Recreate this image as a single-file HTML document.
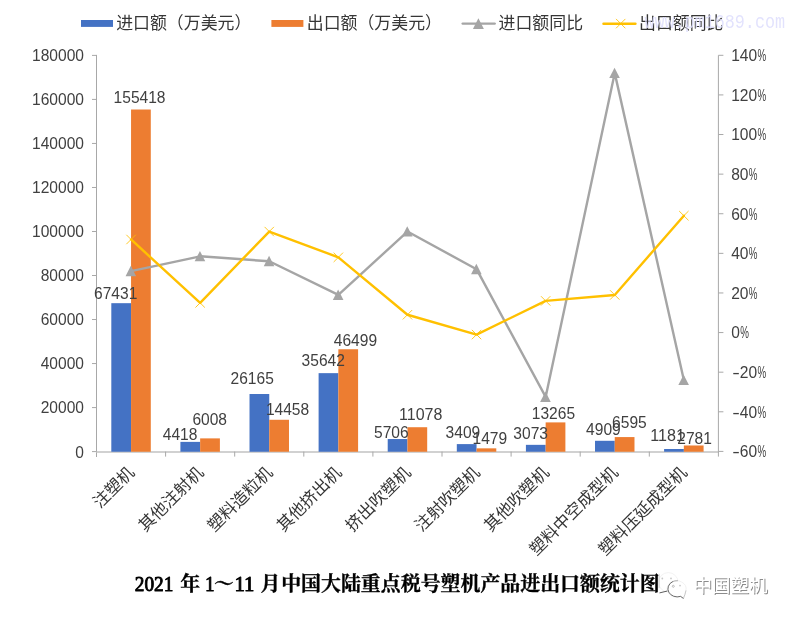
<!DOCTYPE html>
<html lang="zh-CN"><head><meta charset="utf-8"><title>2021年1～11月中国大陆重点税号塑机产品进出口额统计图</title>
<style>html,body{margin:0;padding:0;background:#fff}body{width:794px;height:621px;overflow:hidden}svg{display:block}</style></head>
<body>
<svg width="794" height="621" viewBox="0 0 794 621">
<rect width="794" height="621" fill="#fff"/>
<g stroke="#a8a8a8" stroke-width="1" fill="none">
<path d="M96.5 54.9 V457.0"/>
<path d="M718.4 55.3 V452.0"/>
<path d="M96.0 451.95000000000005 H718.9" stroke="#c2c2c2" stroke-width="1.4"/>
<path d="M92.0 451.60 H96.5"/>
<path d="M92.0 407.58 H96.5"/>
<path d="M92.0 363.56 H96.5"/>
<path d="M92.0 319.53 H96.5"/>
<path d="M92.0 275.51 H96.5"/>
<path d="M92.0 231.49 H96.5"/>
<path d="M92.0 187.47 H96.5"/>
<path d="M92.0 143.44 H96.5"/>
<path d="M92.0 99.42 H96.5"/>
<path d="M92.0 55.40 H96.5"/>
<path d="M718.4 55.30 h5"/>
<path d="M718.4 94.91 h5"/>
<path d="M718.4 134.52 h5"/>
<path d="M718.4 174.13 h5"/>
<path d="M718.4 213.74 h5"/>
<path d="M718.4 253.35 h5"/>
<path d="M718.4 292.96 h5"/>
<path d="M718.4 332.57 h5"/>
<path d="M718.4 372.18 h5"/>
<path d="M718.4 411.79 h5"/>
<path d="M718.4 451.40 h5"/>
<path d="M165.60 451.6 v5"/>
<path d="M234.70 451.6 v5"/>
<path d="M303.80 451.6 v5"/>
<path d="M372.90 451.6 v5"/>
<path d="M442.00 451.6 v5"/>
<path d="M511.10 451.6 v5"/>
<path d="M580.20 451.6 v5"/>
<path d="M649.30 451.6 v5"/>
<path d="M718.40 451.6 v5"/>
</g>
<rect x="111.31" y="303.18" width="19.74" height="148.57" fill="#4472c4"/>
<rect x="131.05" y="109.51" width="19.74" height="342.24" fill="#ed7d31"/>
<rect x="180.41" y="441.88" width="19.74" height="9.87" fill="#4472c4"/>
<rect x="200.15" y="438.38" width="19.74" height="13.37" fill="#ed7d31"/>
<rect x="249.51" y="394.01" width="19.74" height="57.74" fill="#4472c4"/>
<rect x="269.25" y="419.78" width="19.74" height="31.97" fill="#ed7d31"/>
<rect x="318.61" y="373.15" width="19.74" height="78.60" fill="#4472c4"/>
<rect x="338.35" y="349.25" width="19.74" height="102.50" fill="#ed7d31"/>
<rect x="387.71" y="439.04" width="19.74" height="12.71" fill="#4472c4"/>
<rect x="407.45" y="427.22" width="19.74" height="24.53" fill="#ed7d31"/>
<rect x="456.81" y="444.10" width="19.74" height="7.65" fill="#4472c4"/>
<rect x="476.55" y="448.34" width="19.74" height="3.41" fill="#ed7d31"/>
<rect x="525.91" y="444.84" width="19.74" height="6.91" fill="#4472c4"/>
<rect x="545.65" y="422.40" width="19.74" height="29.35" fill="#ed7d31"/>
<rect x="595.01" y="440.79" width="19.74" height="10.96" fill="#4472c4"/>
<rect x="614.75" y="437.08" width="19.74" height="14.67" fill="#ed7d31"/>
<rect x="664.11" y="449.00" width="19.74" height="2.75" fill="#4472c4"/>
<rect x="683.85" y="445.48" width="19.74" height="6.27" fill="#ed7d31"/>
<text x="75.34" y="457.50" font-family="Liberation Sans, sans-serif" font-size="16.4" fill="#404040" textLength="8.66" lengthAdjust="spacingAndGlyphs">0</text>
<text x="40.70" y="413.48" font-family="Liberation Sans, sans-serif" font-size="16.4" fill="#404040" textLength="43.30" lengthAdjust="spacingAndGlyphs">20000</text>
<text x="40.70" y="369.46" font-family="Liberation Sans, sans-serif" font-size="16.4" fill="#404040" textLength="43.30" lengthAdjust="spacingAndGlyphs">40000</text>
<text x="40.70" y="325.43" font-family="Liberation Sans, sans-serif" font-size="16.4" fill="#404040" textLength="43.30" lengthAdjust="spacingAndGlyphs">60000</text>
<text x="40.70" y="281.41" font-family="Liberation Sans, sans-serif" font-size="16.4" fill="#404040" textLength="43.30" lengthAdjust="spacingAndGlyphs">80000</text>
<text x="32.04" y="237.39" font-family="Liberation Sans, sans-serif" font-size="16.4" fill="#404040" textLength="51.96" lengthAdjust="spacingAndGlyphs">100000</text>
<text x="32.04" y="193.37" font-family="Liberation Sans, sans-serif" font-size="16.4" fill="#404040" textLength="51.96" lengthAdjust="spacingAndGlyphs">120000</text>
<text x="32.04" y="149.34" font-family="Liberation Sans, sans-serif" font-size="16.4" fill="#404040" textLength="51.96" lengthAdjust="spacingAndGlyphs">140000</text>
<text x="32.04" y="105.32" font-family="Liberation Sans, sans-serif" font-size="16.4" fill="#404040" textLength="51.96" lengthAdjust="spacingAndGlyphs">160000</text>
<text x="32.04" y="61.30" font-family="Liberation Sans, sans-serif" font-size="16.4" fill="#404040" textLength="51.96" lengthAdjust="spacingAndGlyphs">180000</text>
<text y="61.20" font-family="Liberation Sans, sans-serif" font-size="16.4" fill="#404040"><tspan x="731.2" textLength="25.98" lengthAdjust="spacingAndGlyphs">140</tspan><tspan x="757.48" textLength="8.7" lengthAdjust="spacingAndGlyphs">%</tspan></text>
<text y="100.81" font-family="Liberation Sans, sans-serif" font-size="16.4" fill="#404040"><tspan x="731.2" textLength="25.98" lengthAdjust="spacingAndGlyphs">120</tspan><tspan x="757.48" textLength="8.7" lengthAdjust="spacingAndGlyphs">%</tspan></text>
<text y="140.42" font-family="Liberation Sans, sans-serif" font-size="16.4" fill="#404040"><tspan x="731.2" textLength="25.98" lengthAdjust="spacingAndGlyphs">100</tspan><tspan x="757.48" textLength="8.7" lengthAdjust="spacingAndGlyphs">%</tspan></text>
<text y="180.03" font-family="Liberation Sans, sans-serif" font-size="16.4" fill="#404040"><tspan x="731.2" textLength="17.32" lengthAdjust="spacingAndGlyphs">80</tspan><tspan x="748.82" textLength="8.7" lengthAdjust="spacingAndGlyphs">%</tspan></text>
<text y="219.64" font-family="Liberation Sans, sans-serif" font-size="16.4" fill="#404040"><tspan x="731.2" textLength="17.32" lengthAdjust="spacingAndGlyphs">60</tspan><tspan x="748.82" textLength="8.7" lengthAdjust="spacingAndGlyphs">%</tspan></text>
<text y="259.25" font-family="Liberation Sans, sans-serif" font-size="16.4" fill="#404040"><tspan x="731.2" textLength="17.32" lengthAdjust="spacingAndGlyphs">40</tspan><tspan x="748.82" textLength="8.7" lengthAdjust="spacingAndGlyphs">%</tspan></text>
<text y="298.86" font-family="Liberation Sans, sans-serif" font-size="16.4" fill="#404040"><tspan x="731.2" textLength="17.32" lengthAdjust="spacingAndGlyphs">20</tspan><tspan x="748.82" textLength="8.7" lengthAdjust="spacingAndGlyphs">%</tspan></text>
<text y="338.47" font-family="Liberation Sans, sans-serif" font-size="16.4" fill="#404040"><tspan x="731.2" textLength="8.66" lengthAdjust="spacingAndGlyphs">0</tspan><tspan x="740.16" textLength="8.7" lengthAdjust="spacingAndGlyphs">%</tspan></text>
<text y="378.08" font-family="Liberation Sans, sans-serif" font-size="16.4" fill="#404040"><tspan x="732.2" textLength="7.6" lengthAdjust="spacingAndGlyphs">-</tspan><tspan x="739.8" textLength="17.32" lengthAdjust="spacingAndGlyphs">20</tspan><tspan x="757.42" textLength="8.7" lengthAdjust="spacingAndGlyphs">%</tspan></text>
<text y="417.69" font-family="Liberation Sans, sans-serif" font-size="16.4" fill="#404040"><tspan x="732.2" textLength="7.6" lengthAdjust="spacingAndGlyphs">-</tspan><tspan x="739.8" textLength="17.32" lengthAdjust="spacingAndGlyphs">40</tspan><tspan x="757.42" textLength="8.7" lengthAdjust="spacingAndGlyphs">%</tspan></text>
<text y="457.30" font-family="Liberation Sans, sans-serif" font-size="16.4" fill="#404040"><tspan x="732.2" textLength="7.6" lengthAdjust="spacingAndGlyphs">-</tspan><tspan x="739.8" textLength="17.32" lengthAdjust="spacingAndGlyphs">60</tspan><tspan x="757.42" textLength="8.7" lengthAdjust="spacingAndGlyphs">%</tspan></text>
<polyline points="131.05,271.17 200.15,256.32 269.25,261.27 338.35,294.94 407.45,231.56 476.55,269.19 545.65,396.94 614.75,73.12 683.85,380.10" fill="none" stroke="#a5a5a5" stroke-width="2.4" stroke-linejoin="round" stroke-linecap="round"/>
<path d="M130.85 265.77 L136.15 276.17 H125.55 Z" fill="#a5a5a5"/>
<path d="M199.95 250.92 L205.25 261.32 H194.65 Z" fill="#a5a5a5"/>
<path d="M269.05 255.87 L274.35 266.27 H263.75 Z" fill="#a5a5a5"/>
<path d="M338.15 289.54 L343.45 299.94 H332.85 Z" fill="#a5a5a5"/>
<path d="M407.25 226.16 L412.55 236.56 H401.95 Z" fill="#a5a5a5"/>
<path d="M476.35 263.79 L481.65 274.19 H471.05 Z" fill="#a5a5a5"/>
<path d="M545.45 391.54 L550.75 401.94 H540.15 Z" fill="#a5a5a5"/>
<path d="M614.55 67.72 L619.85 78.12 H609.25 Z" fill="#a5a5a5"/>
<path d="M683.65 374.70 L688.95 385.10 H678.35 Z" fill="#a5a5a5"/>
<polyline points="131.05,239.49 200.15,302.86 269.25,231.56 338.35,257.31 407.45,314.75 476.55,334.55 545.65,300.88 614.75,294.94 683.85,215.72" fill="none" stroke="#ffc000" stroke-width="2.4" stroke-linejoin="round" stroke-linecap="round"/>
<path d="M126.35 234.79 l9.4 9.4 M126.35 244.19 l9.4 -9.4" stroke="#ffc000" stroke-width="0.85" fill="none"/>
<path d="M195.45 298.16 l9.4 9.4 M195.45 307.56 l9.4 -9.4" stroke="#ffc000" stroke-width="0.85" fill="none"/>
<path d="M264.55 226.86 l9.4 9.4 M264.55 236.26 l9.4 -9.4" stroke="#ffc000" stroke-width="0.85" fill="none"/>
<path d="M333.65 252.61 l9.4 9.4 M333.65 262.01 l9.4 -9.4" stroke="#ffc000" stroke-width="0.85" fill="none"/>
<path d="M402.75 310.05 l9.4 9.4 M402.75 319.45 l9.4 -9.4" stroke="#ffc000" stroke-width="0.85" fill="none"/>
<path d="M471.85 329.85 l9.4 9.4 M471.85 339.25 l9.4 -9.4" stroke="#ffc000" stroke-width="0.85" fill="none"/>
<path d="M540.95 296.18 l9.4 9.4 M540.95 305.58 l9.4 -9.4" stroke="#ffc000" stroke-width="0.85" fill="none"/>
<path d="M610.05 290.24 l9.4 9.4 M610.05 299.64 l9.4 -9.4" stroke="#ffc000" stroke-width="0.85" fill="none"/>
<path d="M679.15 211.02 l9.4 9.4 M679.15 220.42 l9.4 -9.4" stroke="#ffc000" stroke-width="0.85" fill="none"/>
<text x="94.05" y="299.30" font-family="Liberation Sans, sans-serif" font-size="16.4" fill="#404040" textLength="43.30" lengthAdjust="spacingAndGlyphs">67431</text>
<text x="113.57" y="103.30" font-family="Liberation Sans, sans-serif" font-size="16.4" fill="#404040" textLength="51.96" lengthAdjust="spacingAndGlyphs">155418</text>
<text x="162.78" y="440.30" font-family="Liberation Sans, sans-serif" font-size="16.4" fill="#404040" textLength="34.64" lengthAdjust="spacingAndGlyphs">4418</text>
<text x="192.38" y="425.20" font-family="Liberation Sans, sans-serif" font-size="16.4" fill="#404040" textLength="34.64" lengthAdjust="spacingAndGlyphs">6008</text>
<text x="230.55" y="384.40" font-family="Liberation Sans, sans-serif" font-size="16.4" fill="#404040" textLength="43.30" lengthAdjust="spacingAndGlyphs">26165</text>
<text x="265.90" y="414.60" font-family="Liberation Sans, sans-serif" font-size="16.4" fill="#404040" textLength="43.30" lengthAdjust="spacingAndGlyphs">14458</text>
<text x="301.60" y="365.70" font-family="Liberation Sans, sans-serif" font-size="16.4" fill="#404040" textLength="43.30" lengthAdjust="spacingAndGlyphs">35642</text>
<text x="333.75" y="345.70" font-family="Liberation Sans, sans-serif" font-size="16.4" fill="#404040" textLength="43.30" lengthAdjust="spacingAndGlyphs">46499</text>
<text x="373.98" y="437.60" font-family="Liberation Sans, sans-serif" font-size="16.4" fill="#404040" textLength="34.64" lengthAdjust="spacingAndGlyphs">5706</text>
<text x="399.10" y="420.40" font-family="Liberation Sans, sans-serif" font-size="16.4" fill="#404040" textLength="43.30" lengthAdjust="spacingAndGlyphs">11078</text>
<text x="445.58" y="438.00" font-family="Liberation Sans, sans-serif" font-size="16.4" fill="#404040" textLength="34.64" lengthAdjust="spacingAndGlyphs">3409</text>
<text x="472.53" y="444.00" font-family="Liberation Sans, sans-serif" font-size="16.4" fill="#404040" textLength="34.64" lengthAdjust="spacingAndGlyphs">1479</text>
<text x="513.33" y="439.20" font-family="Liberation Sans, sans-serif" font-size="16.4" fill="#404040" textLength="34.64" lengthAdjust="spacingAndGlyphs">3073</text>
<text x="531.80" y="418.70" font-family="Liberation Sans, sans-serif" font-size="16.4" fill="#404040" textLength="43.30" lengthAdjust="spacingAndGlyphs">13265</text>
<text x="586.08" y="435.00" font-family="Liberation Sans, sans-serif" font-size="16.4" fill="#404040" textLength="34.64" lengthAdjust="spacingAndGlyphs">4909</text>
<text x="612.08" y="427.80" font-family="Liberation Sans, sans-serif" font-size="16.4" fill="#404040" textLength="34.64" lengthAdjust="spacingAndGlyphs">6595</text>
<text x="650.33" y="440.70" font-family="Liberation Sans, sans-serif" font-size="16.4" fill="#404040" textLength="34.64" lengthAdjust="spacingAndGlyphs">1181</text>
<text x="677.23" y="444.00" font-family="Liberation Sans, sans-serif" font-size="16.4" fill="#404040" textLength="34.64" lengthAdjust="spacingAndGlyphs">2781</text>
<text transform="translate(135.35 473.6) rotate(-45)" text-anchor="end" font-family="Liberation Sans, Noto Sans CJK SC, sans-serif" font-weight="400" font-size="16.7" fill="#363636">注塑机</text>
<text transform="translate(204.45 473.6) rotate(-45)" text-anchor="end" font-family="Liberation Sans, Noto Sans CJK SC, sans-serif" font-weight="400" font-size="16.7" fill="#363636">其他注射机</text>
<text transform="translate(273.55 473.6) rotate(-45)" text-anchor="end" font-family="Liberation Sans, Noto Sans CJK SC, sans-serif" font-weight="400" font-size="16.7" fill="#363636">塑料造粒机</text>
<text transform="translate(342.65 473.6) rotate(-45)" text-anchor="end" font-family="Liberation Sans, Noto Sans CJK SC, sans-serif" font-weight="400" font-size="16.7" fill="#363636">其他挤出机</text>
<text transform="translate(411.75 473.6) rotate(-45)" text-anchor="end" font-family="Liberation Sans, Noto Sans CJK SC, sans-serif" font-weight="400" font-size="16.7" fill="#363636">挤出吹塑机</text>
<text transform="translate(480.85 473.6) rotate(-45)" text-anchor="end" font-family="Liberation Sans, Noto Sans CJK SC, sans-serif" font-weight="400" font-size="16.7" fill="#363636">注射吹塑机</text>
<text transform="translate(549.95 473.6) rotate(-45)" text-anchor="end" font-family="Liberation Sans, Noto Sans CJK SC, sans-serif" font-weight="400" font-size="16.7" fill="#363636">其他吹塑机</text>
<text transform="translate(619.05 473.6) rotate(-45)" text-anchor="end" font-family="Liberation Sans, Noto Sans CJK SC, sans-serif" font-weight="400" font-size="16.7" fill="#363636">塑料中空成型机</text>
<text transform="translate(688.15 473.6) rotate(-45)" text-anchor="end" font-family="Liberation Sans, Noto Sans CJK SC, sans-serif" font-weight="400" font-size="16.7" fill="#363636">塑料压延成型机</text>
<rect x="81" y="20" width="32" height="6.9" fill="#4472c4"/>
<text x="116.2" y="29.3" font-family="Liberation Sans, Noto Sans CJK SC, sans-serif" font-weight="400" font-size="16.9" fill="#363636">进口额（万美元）</text>
<rect x="271.4" y="20" width="32" height="6.9" fill="#ed7d31"/>
<text x="306.8" y="29.3" font-family="Liberation Sans, Noto Sans CJK SC, sans-serif" font-weight="400" font-size="16.9" fill="#363636">出口额（万美元）</text>
<path d="M462.7 23.6 H494.7" stroke="#a5a5a5" stroke-width="2.4" stroke-linecap="round"/>
<path d="M478.4 18.3 L483.9 29 H472.9 Z" fill="#a5a5a5"/>
<text x="498.6" y="29.3" font-family="Liberation Sans, Noto Sans CJK SC, sans-serif" font-weight="400" font-size="16.9" fill="#363636">进口额同比</text>
<path d="M603.5 23.7 H635.4" stroke="#ffc000" stroke-width="2.5" stroke-linecap="round"/>
<path d="M616 18.9 l9.4 9.4 M616 28.3 l9.4 -9.4" stroke="#ffc000" stroke-width="0.85" fill="none"/>
<text x="639.0" y="29.3" font-family="Liberation Sans, Noto Sans CJK SC, sans-serif" font-weight="400" font-size="16.9" fill="#363636">出口额同比</text>
<text x="644.5" y="28.2" font-family="Liberation Mono, monospace" font-size="19.6" fill="#dedefd" opacity="0.85" textLength="140.5" lengthAdjust="spacingAndGlyphs">www.pm1689.com</text>
<text y="591" fill="#000"><tspan x="134.8" font-family="Liberation Serif, Noto Serif CJK SC, serif" font-weight="400" font-size="20.6" stroke="#000" stroke-width="0.9" stroke-linejoin="round" textLength="38.6" lengthAdjust="spacingAndGlyphs">2021</tspan><tspan x="180.2" font-family="Liberation Serif, Noto Serif CJK SC, serif" font-weight="700" font-size="19.93" stroke="#000" stroke-width="0.35">年</tspan><tspan x="204.9" font-family="Liberation Serif, Noto Serif CJK SC, serif" font-weight="400" font-size="20.6" stroke="#000" stroke-width="0.9" stroke-linejoin="round" textLength="9.6" lengthAdjust="spacingAndGlyphs">1</tspan><tspan x="214" font-family="Liberation Serif, Noto Serif CJK SC, serif" font-weight="700" font-size="19.93" stroke="#000" stroke-width="0.35">～</tspan><tspan x="234.4" font-family="Liberation Serif, Noto Serif CJK SC, serif" font-weight="400" font-size="20.6" stroke="#000" stroke-width="0.9" stroke-linejoin="round" textLength="20.0" lengthAdjust="spacingAndGlyphs">11</tspan><tspan x="260.6" font-family="Liberation Serif, Noto Serif CJK SC, serif" font-weight="700" font-size="19.93" stroke="#000" stroke-width="0.35">月</tspan><tspan x="281.2" font-family="Liberation Serif, Noto Serif CJK SC, serif" font-weight="700" font-size="19.93" stroke="#000" stroke-width="0.35">中国大陆重点税号塑机产品进出口额统计图</tspan></text>
<g fill="#fff" stroke="#ececec" stroke-width="0.7">
<ellipse cx="668.3" cy="582.3" rx="9.8" ry="9.7"/>
<path d="M671.05 582.3 A9.5 8.2 0 0 1 685.9 590.6 Q685.6 594 683.4 598.4 L680.6 596.4 A9.5 8.2 0 0 1 671.05 582.3 Z"/>
</g>
<g fill="none" stroke-linecap="round">
<path d="M659.1 574.5 V587.5" stroke="#d9d9d9" stroke-width="1.3"/>
<path d="M659.9 592.8 L667 591.1" stroke="#4a4a4a" stroke-width="0.9"/>
<path d="M672.6 581.6 A9.5 8.2 0 0 0 680.6 596.4 L683.4 598.4" stroke="#5a5a5a" stroke-width="0.9"/>
<path d="M683.4 598.4 Q685.4 594 685.9 590.8" stroke="#c4c4c4" stroke-width="0.9"/>
<path d="M672.6 581.6 Q674.5 580.6 677.5 580.7" stroke="#9a9a9a" stroke-width="0.8"/>
</g>
<g fill="#c8c8c8"><circle cx="662.3" cy="578.5" r="0.9"/><circle cx="671" cy="578.4" r="0.9"/><circle cx="680" cy="585.6" r="0.9"/></g>
<circle cx="673.3" cy="586.3" r="1" fill="#fff" stroke="#999" stroke-width="0.6"/>
<text x="694.5" y="593.2" font-family="Liberation Sans, Noto Sans CJK SC, sans-serif" font-size="18.5" fill="#8c8c8c">中国塑机</text>
<text x="693.5" y="592.2" font-family="Liberation Sans, Noto Sans CJK SC, sans-serif" font-size="18.5" fill="#fff">中国塑机</text>
</svg>
</body></html>
